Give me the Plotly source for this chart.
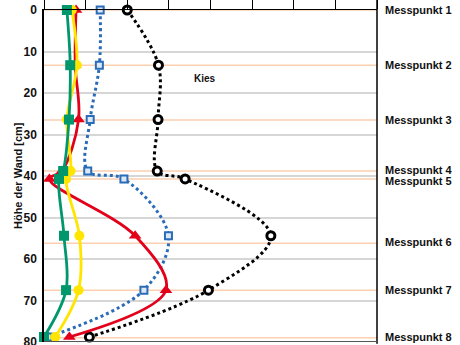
import plotly.graph_objects as go

# Measurement depths (cm) at which each profile was sampled
depth = [0, 13.3, 26.4, 38.8, 40.7, 54.4, 67.5, 78.8]

# Profile values per series
green = [0.55, 0.63, 0.60, 0.46, 0.36, 0.48, 0.53, 0.0]
yellow = [0.67, 0.79, 0.55, 0.64, 0.53, 0.85, 0.83, 0.27]
red = [0.77, 0.75, 0.83, 0.43, 0.13, 2.19, 2.93, 0.61]
blue = [1.35, 1.33, 1.11, 1.05, 1.92, 2.99, 2.40, 0.10]
black = [2.00, 2.75, 2.74, 2.72, 3.39, 5.45, 3.95, 1.09]

# Reference lines for the measuring points
mp_labels = ["Messpunkt 1", "Messpunkt 2", "Messpunkt 3", "Messpunkt 4",
             "Messpunkt 5", "Messpunkt 6", "Messpunkt 7", "Messpunkt 8"]
mp_lines = [0, 13.3, 26.5, 38.8, 40.7, 56.2, 67.5, 79.0]
mp_label_y = [0, 13.2, 26.5, 38.5, 41.2, 55.9, 67.4, 78.7]

y_ticks = [0, 10, 20, 30, 40, 50, 60, 70, 80]

FONT = "Liberation Sans"

fig = go.Figure()

series = [
    (black, "#000000", "dot", 3, dict(symbol="circle", size=8, color="white",
                                      line=dict(color="#000000", width=3))),
    (blue, "#2a6cb8", "dot", 3, dict(symbol="square", size=7, color="#dce8f6",
                                     line=dict(color="#2a6cb8", width=2))),
    (red, "#e2001a", "solid", 2.8, dict(symbol="triangle-up", size=11, color="#e2001a")),
    (yellow, "#ffe500", "solid", 2.8, dict(symbol="circle", size=10, color="#ffe500")),
    (green, "#00976c", "solid", 2.8, dict(symbol="square", size=10, color="#00976c")),
]

for vals, col, dash, lw, mk in series:
    fig.add_trace(go.Scatter(
        x=vals, y=depth, mode="lines+markers",
        line=dict(color=col, width=lw, dash=dash, shape="spline", smoothing=1.0),
        marker=mk, cliponaxis=False, showlegend=False,
    ))

shapes = []
for yv in mp_lines:
    shapes.append(dict(type="line", xref="paper", x0=0, x1=1, yref="y", y0=yv, y1=yv,
                       line=dict(color="#fbcfb0", width=1.5), layer="below"))
# right boundary and bottom frame line
shapes.append(dict(type="line", xref="paper", x0=1, x1=1, yref="paper", y0=-0.005, y1=1.03,
                   line=dict(color="#000000", width=1.5)))
shapes.append(dict(type="line", xref="paper", x0=0, x1=1, yref="y", y0=80, y1=80,
                   line=dict(color="#555555", width=2)))

annotations = []
for lab, yv in zip(mp_labels, mp_label_y):
    annotations.append(dict(text=f"<b>{lab}</b>", xref="paper", x=1.018, xanchor="left",
                            yref="y", y=yv, yanchor="middle", showarrow=False,
                            font=dict(family=FONT, size=11, color="#111111")))
annotations.append(dict(text="<b>Kies</b>", xref="x", x=3.87, yref="y", y=16.6,
                        showarrow=False, font=dict(family=FONT, size=10, color="#111111")))
annotations.append(dict(text="<b>Höhe der Wand [cm]</b>", xref="paper", x=-0.078,
                        yref="paper", y=0.5, textangle=-90, showarrow=False,
                        xanchor="center", yanchor="middle",
                        font=dict(family=FONT, size=11, color="#111111")))

fig.update_layout(
    width=460, height=345,
    margin=dict(l=44, r=83, t=10, b=3, autoexpand=False),
    paper_bgcolor="white", plot_bgcolor="white",
    shapes=shapes, annotations=annotations,
    xaxis=dict(range=[0, 8], side="top", dtick=1, tick0=0, ticks="outside", ticklen=9,
               tickcolor="#000000", tickwidth=1, showticklabels=False,
               showline=True, linecolor="#000000", linewidth=1,
               showgrid=False, zeroline=False, automargin=False),
    yaxis=dict(range=[80, 0], tickvals=y_ticks,
               ticktext=[f"<b>{v}</b>" for v in y_ticks],
               tickfont=dict(family=FONT, size=12, color="#111111"),
               ticklabeloverflow="allow", automargin=False,
               showline=True, linecolor="#000000", linewidth=1.5,
               showgrid=True, gridcolor="#d6d6d6", gridwidth=1.5, zeroline=False,
               ticks="", ticklabelstandoff=3),
)

fig.write_html("out.html")
